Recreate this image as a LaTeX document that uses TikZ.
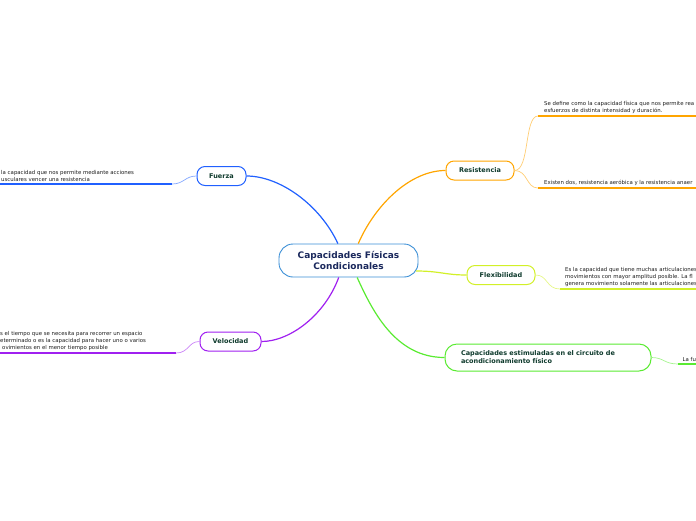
\documentclass[tikz,border=0pt]{standalone}
\usepackage{fontspec}
\setmainfont{DejaVu Sans}
\usetikzlibrary{calc}
\definecolor{corecol}{RGB}{59,143,214}
\definecolor{coretext}{RGB}{26,40,92}
\definecolor{nodetext}{RGB}{14,58,44}
\definecolor{leaftext}{RGB}{30,30,30}
\definecolor{fuercol}{RGB}{32,96,255}
\definecolor{velcol}{RGB}{160,32,240}
\definecolor{rescol}{RGB}{255,165,0}
\definecolor{flexcol}{RGB}{210,240,40}
\definecolor{estcol}{RGB}{90,235,50}

\begin{document}
\begin{tikzpicture}[x=1pt,y=-1pt,
  branch/.style={draw=#1,line width=1pt,rounded corners=8pt,fill=white,text=nodetext,
    font=\fontsize{6.5}{8}\selectfont\bfseries,minimum height=19pt,inner xsep=0pt},
  leaf/.style={text=leaftext,font=\fontsize{5.4}{7}\selectfont,align=left,
    inner xsep=6pt,inner ysep=2.5pt,anchor=south west},
  stem/.style={draw=#1,line width=1.2pt},
  twig/.style={draw=#1!55,line width=0.7pt},
  base/.style={draw=#1,line width=1.6pt}]
  \useasboundingbox (0,0) rectangle (696,520);
  \clip (0,0) rectangle (696,520);
  \coordinate (edge) at (696,0);
  \node[draw=corecol,line width=0.9pt,rounded corners=14pt,fill=white,minimum width=139pt,
    minimum height=33pt,text=coretext,font=\fontsize{9}{11}\selectfont\bfseries,align=center]
    (core) at (348.5,260.5) {Capacidades Físicas\\Condicionales};
  \node[branch=fuercol,minimum width=49pt] (fuerza) at (221.5,176) {Fuerza};
  \node[branch=velcol,minimum width=61pt] (velocidad) at (230.5,341.5) {Velocidad};
  \node[branch=rescol,minimum width=68pt] (resistencia) at (480,170.5) {Resistencia};
  \node[branch=flexcol,minimum width=68pt] (flexibilidad) at (501,275) {Flexibilidad};
  \node[branch=estcol,minimum width=206pt,minimum height=27pt,rounded corners=12pt,
    align=left,text width=174pt] (circuito) at (548,357.5)
    {Capacidades estimuladas en el circuito de\\acondicionamiento físico};

  \coordinate (fuerend) at (172,184);
  \coordinate (velend) at (176,353);
  \coordinate (resendA) at (538,116);
  \coordinate (resendB) at (538,188);
  \coordinate (flexend) at (560,289);
  \coordinate (circend) at (678,364);

  \node[leaf] (fuerleaf) at (-5,184)
    {la capacidad que nos permite mediante acciones\\usculares vencer una resistencia};
  \node[leaf] (velleaf) at (-6,353)
    {s el tiempo que se necesita para recorrer un espacio\\eterminado o es la capacidad para hacer uno o varios\\\hspace{2pt}ovimientos en el menor tiempo posible};
  \node[leaf] (resleafA) at (resendA)
    {Se define como la capacidad física que nos permite rea\\esfuerzos de distinta intensidad y duración.};
  \node[leaf] (resleafB) at (resendB) {Existen dos, resistencia aeróbica y la resistencia anaer};
  \node[leaf,inner xsep=5pt] (flexleaf) at (flexend)
    {Es la capacidad que tiene muchas articulaciones\\movimientos con mayor amplitud posible. La fl\\genera movimiento solamente las articulaciones};
  \node[leaf,inner xsep=4.5pt] (circleaf) at (circend) {La fu};

  \draw[stem=fuercol] (core.122) .. controls (320,205) and (280,176) .. (fuerza.east);
  \draw[stem=velcol] (core.240) .. controls (325,315) and (290,341.5) .. (velocidad.east);
  \draw[stem=rescol] (core.60) .. controls (375,205) and (410,170.5) .. (resistencia.west);
  \draw[stem=flexcol] ($(core.east)+(-2.5,10.5)$) .. controls (440,271) and (445,275) .. (flexibilidad.west);
  \draw[stem=estcol] (core.297) .. controls (372,310) and (395,357.5) .. (circuito.west);

  \draw[twig=fuercol] (fuerza.west) .. controls (185,176) and (184,184) .. (fuerend);
  \draw[base=fuercol] (fuerend) -- (fuerleaf.south west);
  \draw[twig=velcol] (velocidad.west) .. controls (188,341.5) and (189,353) .. (velend);
  \draw[base=velcol] (velend) -- (velleaf.south west);
  \draw[twig=rescol] (resistencia.east) .. controls (530,170.5) and (524,116) .. (resleafA.south west);
  \draw[base=rescol] (resleafA.south west) -- (resleafA.south west -| edge);
  \draw[twig=rescol] (resistencia.east) .. controls (528,170.5) and (526,188) .. (resleafB.south west);
  \draw[base=rescol] (resleafB.south west) -- (resleafB.south west -| edge);
  \draw[twig=flexcol] (flexibilidad.east) .. controls (548,275) and (546,289) .. (flexleaf.south west);
  \draw[base=flexcol] (flexleaf.south west) -- (flexleaf.south west -| edge);
  \draw[twig=estcol] (circuito.east) .. controls (664,357.5) and (664,364) .. (circleaf.south west);
  \draw[base=estcol] (circleaf.south west) -- (circleaf.south west -| edge);
\end{tikzpicture}
\end{document}
